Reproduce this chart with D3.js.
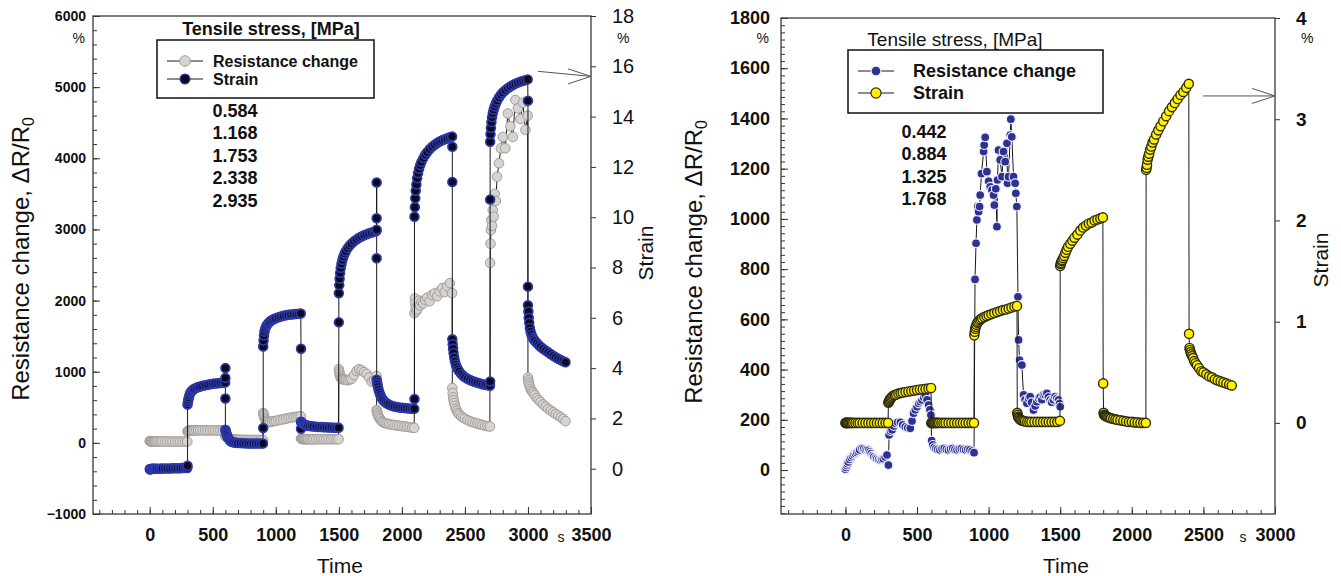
<!DOCTYPE html>
<html>
<head>
<meta charset="utf-8">
<script src="https://cdn.jsdelivr.net/npm/d3@7/dist/d3.min.js"></script>
<style>
  body { margin: 0; background: #fff; }
  svg text { font-family: "Liberation Sans", Arial, sans-serif; fill: #111; }
</style>
</head>
<body>
<svg id="chart" width="1341" height="576"></svg>
<script>
// sample offsets (s) inside every 300 s load / unload step
var stepLength = 300;
var stepOffsets = [0, 3, 6, 10, 15, 21, 28, 36, 45, 55, 70, 85, 100, 120, 140, 160, 180, 200, 220, 240, 260, 280, 298];

// ---------- left sample ----------
var stepStartsL = [0, 300, 600, 900, 1200, 1500, 1800, 2100, 2400, 2700, 3000];
var strainL = [
	[-0.02,-0.02,-0.01,-0.01,-0.01,0,0,0,0,0,0,0,0.01,0.01,0.01,0.01,0.02,0.02,0.02,0.02,0.03,0.03,0.03],
	[2.55,2.65,2.74,2.83,2.92,3.0,3.06,3.11,3.15,3.18,3.22,3.25,3.27,3.3,3.32,3.34,3.36,3.38,3.39,3.4,3.41,3.42,3.43],
	[1.55,1.5,1.44,1.37,1.3,1.23,1.17,1.12,1.08,1.06,1.04,1.03,1.02,1.02,1.01,1.01,1.0,1.0,1.0,1.0,1.0,1.0,1.0],
	[4.86,5.1,5.3,5.45,5.55,5.63,5.7,5.76,5.81,5.86,5.91,5.95,5.98,6.02,6.05,6.08,6.1,6.12,6.13,6.14,6.15,6.16,6.17],
	[1.87,1.85,1.83,1.81,1.79,1.77,1.75,1.73,1.72,1.71,1.7,1.69,1.68,1.67,1.66,1.66,1.65,1.65,1.64,1.64,1.63,1.63,1.63],
	[6.98,7.3,7.55,7.78,7.98,8.15,8.3,8.43,8.55,8.65,8.77,8.87,8.95,9.04,9.11,9.18,9.23,9.28,9.32,9.36,9.39,9.42,9.45],
	[3.54,3.45,3.36,3.26,3.15,3.04,2.94,2.85,2.77,2.7,2.63,2.58,2.54,2.5,2.47,2.45,2.43,2.42,2.41,2.4,2.39,2.38,2.38],
	[10.02,10.4,10.75,11.05,11.3,11.55,11.75,11.93,12.07,12.2,12.35,12.48,12.58,12.7,12.8,12.88,12.95,13.01,13.06,13.1,13.14,13.18,13.21],
	[5.15,4.95,4.78,4.6,4.42,4.27,4.14,4.04,3.95,3.87,3.77,3.7,3.64,3.58,3.53,3.49,3.45,3.42,3.39,3.36,3.34,3.32,3.3],
	[13.0,13.3,13.55,13.78,13.97,14.13,14.27,14.4,14.52,14.63,14.76,14.87,14.96,15.05,15.13,15.2,15.26,15.31,15.35,15.39,15.42,15.45,15.48],
	[6.5,6.25,6.0,5.8,5.6,5.45,5.33,5.23,5.15,5.08,5.0,4.92,4.85,4.77,4.7,4.63,4.56,4.49,4.43,4.37,4.32,4.27,4.23]
];
// extra readings logged right at the end of each step (load change)
var strainEdgesL = [[0.12], [4.0, 3.61, 2.79], [1.62], [4.77, 1.59], [5.82], [9.96, 11.38, 9.5, 8.37], [2.77], [12.8, 11.4], [3.47, 10.7], [14.63, 7.24]];
var resistL = [
	[25,24,23,22,22,21,21,20,20,20,19,19,19,19,18,18,18,18,18,18,18,18,18],
	[160,165,168,170,172,173,174,175,175,175,176,176,176,176,175,175,175,175,174,174,174,174,173],
	[95,90,85,80,75,70,65,60,55,50,48,46,45,44,43,42,41,40,40,40,40,40,40],
	[420,400,380,350,330,310,300,295,292,295,300,305,310,318,325,332,340,348,355,360,365,370,372],
	[60,58,56,55,54,53,52,52,51,51,50,50,50,50,50,50,50,50,50,50,50,50,50],
	[1035,1000,970,940,915,900,895,894,890,885,880,890,900,950,1010,1035,1020,995,970,920,860,880,940],
	[464,440,415,390,370,350,330,310,295,285,275,268,262,255,250,245,240,235,230,225,220,215,210],
	[1823,2030,1960,1900,1850,1880,1950,2000,1930,1980,1960,2010,2040,1990,2080,2100,2060,2130,2175,2120,2200,2245,2105],
	[770,700,640,600,560,520,480,450,420,400,375,355,340,320,305,290,280,270,260,250,240,235,230],
	[2530,2800,2990,3130,3050,3270,3180,3500,3400,3740,3930,4140,4300,4140,4630,4450,4300,4820,4700,4550,4780,4400,4600],
	[918,880,850,820,790,760,735,715,695,670,630,600,575,540,510,480,455,430,405,385,360,335,305]
];
var stressL = ["0.584", "1.168", "1.753", "2.338", "2.935"];
var timeTicksL = [0, 500, 1000, 1500, 2000, 2500, 3000, 3500];
var resTicksL = [-1000, 0, 1000, 2000, 3000, 4000, 5000, 6000];
var strainTicksL = [0, 2, 4, 6, 8, 10, 12, 14, 16, 18];

// ---------- right sample ----------
var stepStartsR = [0, 300, 600, 900, 1200, 1500, 1800, 2100, 2400];
var strainR = [
	[0,0,0,0,0,0,0,0,0,0,0,0,0,0,0,0,0,0,0,0,0,0,0],
	[0.2,0.21,0.22,0.23,0.24,0.25,0.26,0.27,0.275,0.28,0.29,0.295,0.3,0.305,0.31,0.315,0.32,0.325,0.33,0.333,0.336,0.34,0.345],
	[0,0,0,0,0,0,0,0,0,0,0,0,0,0,0,0,0,0,0,0,0,0,0],
	[0.865,0.9,0.93,0.95,0.97,0.99,1.0,1.015,1.025,1.035,1.045,1.055,1.065,1.075,1.085,1.095,1.105,1.115,1.12,1.13,1.14,1.15,1.155],
	[0.1,0.08,0.06,0.05,0.04,0.03,0.025,0.02,0.02,0.015,0.01,0.01,0.01,0.01,0.01,0.01,0.01,0.01,0.01,0.01,0.01,0.01,0.02],
	[1.55,1.57,1.58,1.6,1.61,1.63,1.65,1.68,1.71,1.74,1.77,1.8,1.83,1.86,1.9,1.93,1.95,1.97,1.98,2.0,2.01,2.02,2.03],
	[0.39,0.1,0.08,0.075,0.07,0.065,0.06,0.055,0.05,0.045,0.04,0.035,0.03,0.025,0.02,0.015,0.01,0.01,0.005,0.005,0,0,0],
	[2.5,2.52,2.55,2.6,2.63,2.66,2.7,2.73,2.77,2.8,2.85,2.89,2.93,2.98,3.03,3.08,3.12,3.16,3.2,3.24,3.27,3.31,3.35],
	[0.88,0.74,0.72,0.7,0.68,0.66,0.64,0.61,0.59,0.57,0.54,0.51,0.5,0.48,0.46,0.45,0.43,0.42,0.41,0.4,0.39,0.38,0.37]
];
// resistance of the right sample was logged only up to ~1500 s
var timeResR = [
	0,5,10,15,20,30,40,50,60,70,80,90,100,116,128,140,152,163,172,180,190,198,210,220,232,244,255,265,278,290,300,
	305,315,326,338,350,365,384,400,418,435,453,465,476,488,500,512,523,535,547,558,570,581,590,597,
	602,610,620,632,645,660,675,690,705,720,735,750,765,780,795,810,825,840,855,870,885,898,
	905,912,918,925,930,937,941,950,965,969,976,988,1000,1011,1023,1034,1040,1050,1058,1062,1069,1081,1093,1104,1116,1128,1132,1139,1151,1155,1162,1174,1185,1190,1197,1205,
	1209,1216,1232,1244,1255,1267,1280,1290,1300,1313,1325,1337,1350,1360,1372,1383,1395,1407,1418,1430,1440,1452,1464,1476,1488,1495,1500
];
var resistR = [
	3,10,18,25,32,42,50,56,62,66,70,75,80,86,84,80,80,78,72,66,58,53,48,45,42,40,42,45,52,60,20,
	140,155,160,175,186,190,190,180,172,168,166,195,226,240,252,265,272,279,290,299,280,259,240,219,
	117,100,90,85,82,80,84,86,82,80,84,86,82,80,83,85,82,80,82,80,75,69,
	759,903,996,1050,1029,1049,1095,1180,1268,1294,1325,1188,1150,1128,1115,1095,1055,1120,969,1155,1274,1235,1168,1268,1228,1301,1142,1168,1334,1397,1327,1168,1142,1102,1049,690,
	518,438,418,299,280,266,285,292,270,239,255,272,285,290,280,299,300,305,290,279,270,280,292,285,279,265,252
];
var stressR = ["0.442", "0.884", "1.325", "1.768"];
var timeTicksR = [0, 500, 1000, 1500, 2000, 2500, 3000];
var resTicksR = [0, 200, 400, 600, 800, 1000, 1200, 1400, 1600, 1800];
var strainTicksR = [0, 1, 2, 3, 4];

// ---------- styles ----------
var STYLE = {
	grey:   { fill: '#d6d3d0', stroke: '#a19d99', width: 1,   r: 4.8 },
	navy:   { fill: '#0a0a18', stroke: '#2c37a8', width: 1.7, r: 4.4 },
	blue:   { fill: '#2e3192', stroke: '#eceefb', width: 1.1, r: 4.4 },
	yellow: { fill: '#fff100', stroke: '#2e2c12', width: 1.4, r: 4.6 }
};
var fmt = d3.format('d');

var svg = d3.select('#chart');

function buildSteps(starts, values, edges) {
	var pts = [];
	starts.forEach(function (s, k) {
		values[k].forEach(function (v, i) { pts.push([s + stepOffsets[i], v]); });
		if (edges && edges[k]) {
			edges[k].forEach(function (v) { pts.push([s + stepLength, v]); });
		}
	});
	return pts;
}

function drawSeries(g, pts, x, y, st) {
	var line = d3.line().x(function (d) { return x(d[0]); }).y(function (d) { return y(d[1]); });
	g.append('path').datum(pts)
		.attr('d', line).attr('fill', 'none').attr('stroke', '#1a1a1a').attr('stroke-width', 1);
	g.append('g').selectAll('circle').data(pts).enter().append('circle')
		.attr('cx', function (d) { return x(d[0]); })
		.attr('cy', function (d) { return y(d[1]); })
		.attr('r', st.r)
		.attr('fill', st.fill).attr('stroke', st.stroke).attr('stroke-width', st.width);
}

function styleAxis(a, size, bold) {
	a.select('.domain').remove();
	a.selectAll('line').attr('stroke', '#333').attr('stroke-width', 1);
	a.selectAll('text').attr('font-size', size).attr('font-weight', bold ? 'bold' : 'normal')
		.attr('fill', '#111');
	return a;
}

function drawPanel(p) {
	var g = svg.append('g'), x = p.x, yl = p.yl, yr = p.yr;
	var x0 = x.range()[0], x1 = x.range()[1], yb = yl.range()[0], yt = yl.range()[1];

	// minor + major ticks
	styleAxis(g.append('g').attr('transform', 'translate(' + x0 + ',0)')
		.call(d3.axisLeft(yl).tickValues(p.leftMinor).tickSize(-4).tickFormat('')), 0);
	styleAxis(g.append('g').attr('transform', 'translate(' + x0 + ',0)')
		.call(d3.axisLeft(yl).tickValues(p.leftTicks).tickSize(-7).tickPadding(p.leftPad).tickFormat(fmt)), p.leftSize, true);
	styleAxis(g.append('g').attr('transform', 'translate(' + x1 + ',0)')
		.call(d3.axisRight(yr).tickValues(p.rightTicks).tickSize(5).tickPadding(16).tickFormat(fmt)), p.rightSize, p.rightBold);
	styleAxis(g.append('g').attr('transform', 'translate(0,' + yb + ')')
		.call(d3.axisBottom(x).tickValues(p.xMinor).tickSize(-4).tickFormat('')), 0);
	styleAxis(g.append('g').attr('transform', 'translate(0,' + yb + ')')
		.call(d3.axisBottom(x).tickValues(p.xTicks).tickSize(-7).tickPadding(14).tickFormat(fmt)), 18, true);

	g.append('rect').attr('x', x0).attr('y', yt).attr('width', x1 - x0).attr('height', yb - yt)
		.attr('fill', 'none').attr('stroke', '#3a3a3a').attr('stroke-width', 1.3);

	// data
	p.series.forEach(function (s) { drawSeries(g, s.pts, x, s.axis === 'l' ? yl : yr, s.style); });

	// axis titles
	var t = g.append('text').attr('transform', 'translate(' + p.titleL[0] + ',' + p.titleL[1] + ') rotate(-90)')
		.attr('text-anchor', 'middle').attr('font-size', 24);
	t.append('tspan').text('Resistance change, \u0394R/R');
	t.append('tspan').attr('font-size', 16).attr('dy', 5).text('0');
	g.append('text').attr('transform', 'translate(' + p.titleR[0] + ',' + p.titleR[1] + ') rotate(-90)')
		.attr('text-anchor', 'middle').attr('font-size', 21).text('Strain');
	g.append('text').attr('x', p.timeX).attr('y', 573).attr('text-anchor', 'middle')
		.attr('font-size', 21).text('Time');
	g.append('text').attr('x', p.sX).attr('y', 542).attr('text-anchor', 'middle')
		.attr('font-size', 14).text('s');
	g.append('text').attr('x', x0 - p.leftPad - 1).attr('y', 43).attr('text-anchor', 'end')
		.attr('font-size', 14).text('%');
	g.append('text').attr('x', x1 + 26).attr('y', 43).attr('font-size', 14).text('%');

	// stress header, legend and stress list
	g.append('text').attr('x', p.head[0]).attr('y', p.head[1]).attr('text-anchor', 'middle')
		.attr('font-size', p.headSize).attr('font-weight', p.headBold ? 'bold' : 'normal')
		.text('Tensile stress, [MPa]');
	var b = p.legend;
	g.append('rect').attr('x', b.x).attr('y', b.y).attr('width', b.w).attr('height', b.h)
		.attr('fill', '#fff').attr('stroke', '#111').attr('stroke-width', 1.5);
	p.series.forEach(function (s, i) {
		var cy = b.rows[i];
		g.append('line').attr('x1', b.x + 10).attr('x2', b.x + 46).attr('y1', cy).attr('y2', cy)
			.attr('stroke', '#1a1a1a').attr('stroke-width', 1);
		g.append('circle').attr('cx', b.x + 28).attr('cy', cy).attr('r', s.style.r + 0.5)
			.attr('fill', s.style.fill).attr('stroke', s.style.stroke).attr('stroke-width', Math.min(s.style.width, 1.2));
		g.append('text').attr('x', b.x + b.textDx).attr('y', cy).attr('dy', '0.35em')
			.attr('font-size', b.size).attr('font-weight', 'bold').text(s.name);
	});
	g.append('g').selectAll('text').data(p.stress).enter().append('text')
		.attr('x', p.stressPos[0]).attr('y', function (d, i) { return p.stressPos[1] + i * 22.4; })
		.attr('text-anchor', 'middle').attr('font-size', 18).attr('font-weight', 'bold')
		.text(function (d) { return d; });

	// arrow pointing to the strain axis
	var a = p.arrow, ax0 = x(a[0][0]), ay0 = yr(a[0][1]), ax1 = x(a[1][0]), ay1 = yr(a[1][1]);
	g.append('path')
		.attr('d', 'M' + ax0 + ',' + ay0 + 'L' + ax1 + ',' + ay1 +
			'M' + (ax1 - 23) + ',' + (ay1 - 7.5) + 'L' + ax1 + ',' + ay1 + 'L' + (ax1 - 23) + ',' + (ay1 + 7.5))
		.attr('fill', 'none').attr('stroke', '#555').attr('stroke-width', 1);
}

// left panel
drawPanel({
	x: d3.scaleLinear().domain([-450, 3500]).range([93, 591]),
	yl: d3.scaleLinear().domain([-1000, 6000]).range([514, 16]),
	yr: d3.scaleLinear().domain([-1.8, 18]).range([514, 16]),
	leftTicks: resTicksL, leftMinor: d3.range(-1000, 6001, 200), leftPad: 7, leftSize: 14,
	rightTicks: strainTicksL, rightSize: 20, rightBold: false,
	xTicks: timeTicksL, xMinor: d3.range(-400, 3501, 100),
	series: [
		{ name: 'Resistance change', axis: 'l', style: STYLE.grey, pts: buildSteps(stepStartsL, resistL) },
		{ name: 'Strain', axis: 'r', style: STYLE.navy, pts: buildSteps(stepStartsL, strainL, strainEdgesL) }
	],
	titleL: [29, 259], titleR: [653, 253], timeX: 340, sX: 561,
	head: [271, 35], headSize: 18, headBold: true,
	legend: { x: 157, y: 40, w: 217, h: 58, rows: [61, 79], textDx: 56, size: 16 },
	stress: stressL, stressPos: [235, 117],
	arrow: [[3080, 15.8], [3500, 15.6]]
});

// right panel
drawPanel({
	x: d3.scaleLinear().domain([-450, 3000]).range([781, 1275]),
	yl: d3.scaleLinear().domain([-175, 1800]).range([514, 18]),
	yr: d3.scaleLinear().domain([-0.9, 4]).range([514, 18]),
	leftTicks: resTicksR, leftMinor: d3.range(-1200, 12601, 200).map(function (v) { return v / 7; }).filter(function (v) { return v >= -175; }),
	leftPad: 11, leftSize: 18,
	rightTicks: strainTicksR, rightSize: 19, rightBold: true,
	xTicks: timeTicksR, xMinor: d3.range(-400, 3001, 100),
	series: [
		{ name: 'Resistance change', axis: 'l', style: STYLE.blue, pts: timeResR.map(function (t, i) { return [t, resistR[i]]; }) },
		{ name: 'Strain', axis: 'r', style: STYLE.yellow, pts: buildSteps(stepStartsR, strainR) }
	],
	titleL: [702, 262], titleR: [1328, 260], timeX: 1066, sX: 1243,
	head: [955, 46], headSize: 19, headBold: false,
	legend: { x: 848, y: 50, w: 255, h: 63, rows: [71, 93], textDx: 65, size: 18 },
	stress: stressR, stressPos: [924, 138],
	arrow: [[2497, 3.23], [3000, 3.23]]
});
</script>
</body>
</html>
